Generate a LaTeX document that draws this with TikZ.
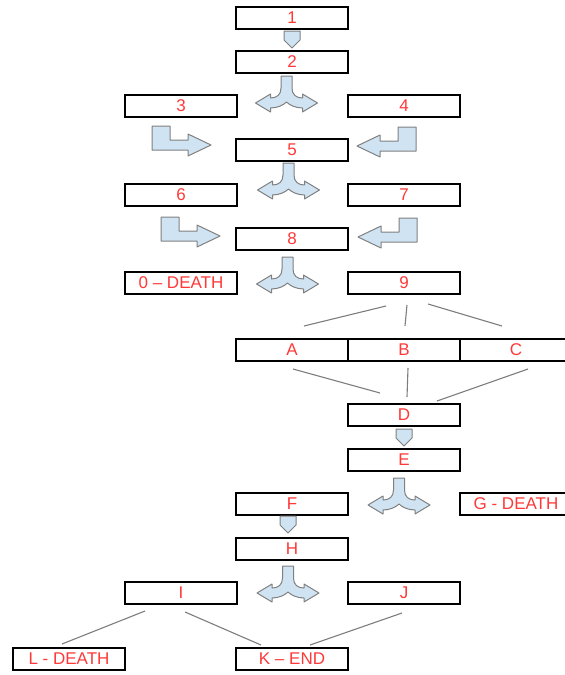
\documentclass[tikz,border=0pt]{standalone}
\usepackage{fontspec}
\setmainfont{Liberation Sans}
\definecolor{txtred}{RGB}{255,56,56}
\definecolor{arrfill}{RGB}{207,227,242}
\definecolor{arrline}{RGB}{128,128,128}
\definecolor{connc}{RGB}{125,125,125}
\tikzset{
 box/.style={draw=black, line width=1.3pt, minimum width=112pt, minimum height=22pt, inner sep=0pt, text=txtred, font=\fontsize{17}{19}\selectfont},
 blockarr/.style={fill=arrfill, draw=arrline, line width=1pt, line join=round},
 connline/.style={draw=connc, line width=1.1pt},
 pics/splitarr/.style={code={\path[blockarr] (5.5,0) -- (5.5,12) .. controls (5.5,19) and (10,22) .. (16,22) -- (16,18) -- (31,27) -- (16,36) -- (16,32) .. controls (9,32) and (3,29) .. (0,26) .. controls (-3,29) and (-9,32) .. (-16,32) -- (-16,36) -- (-31,27) -- (-16,18) -- (-16,22) .. controls (-10,22) and (-5.5,19) .. (-5.5,12) -- (-5.5,0) -- cycle;}},
 pics/downarr/.style={code={\path[blockarr] (-8,0) -- (8,0) -- (8,9) -- (0,17) -- (-8,9) -- cycle;}},
 pics/bentright/.style={code={\path[blockarr] (0,0) -- (18,0) -- (18,14) -- (36,14) -- (36,8) -- (59,19) -- (36,30) -- (36,24) -- (0,24) -- cycle;}},
 pics/bentleft/.style={code={\path[blockarr] (0,0) -- (-18,0) -- (-18,14) -- (-36,14) -- (-36,8) -- (-59,19) -- (-36,30) -- (-36,24) -- (0,24) -- cycle;}},
}
\begin{document}
\begin{tikzpicture}[x=1pt,y=-1pt]
\useasboundingbox (0,0) rectangle (565,675);
\clip (0,0) rectangle (565,675);
% boxes
\node[box] (n1) at (292,18) {1};
\node[box] (n2) at (292,62) {2};
\node[box] (n3) at (181,106) {3};
\node[box] (n4) at (404,106) {4};
\node[box] (n5) at (292,150) {5};
\node[box] (n6) at (181,195) {6};
\node[box] (n7) at (404,195) {7};
\node[box] (n8) at (292,239) {8};
\node[box] (n0) at (181,283) {0 – DEATH};
\node[box] (n9) at (404,283) {9};
\node[box] (nA) at (292,350) {A};
\node[box] (nB) at (404,350) {B};
\node[box] (nC) at (516,350) {C};
\node[box] (nD) at (404,415) {D};
\node[box] (nE) at (404,460) {E};
\node[box] (nF) at (292,504) {F};
\node[box] (nG) at (516,504) {G - DEATH};
\node[box] (nH) at (292,549) {H};
\node[box] (nI) at (181,593) {I};
\node[box] (nJ) at (404,593) {J};
\node[box] (nL) at (69,659) {L - DEATH};
\node[box] (nK) at (292,659) {K – END};
% block arrows
\pic at (292,31) {downarr};
\pic at (404,429) {downarr};
\pic at (288,516) {downarr};
\pic at (286.5,76) {splitarr};
\pic at (288.5,163) {splitarr};
\pic at (287.5,257) {splitarr};
\pic at (399,478) {splitarr};
\pic at (288,566) {splitarr};
\pic at (152,126) {bentright};
\pic at (161,217) {bentright};
\pic at (416,127) {bentleft};
\pic at (417,218) {bentleft};
% connector end points
\coordinate (c9a) at (386,306); \coordinate (cAa) at (304,326);
\coordinate (c9b) at (407,305); \coordinate (cBa) at (405,326);
\coordinate (c9c) at (428,304); \coordinate (cCa) at (502,326);
\coordinate (cAb) at (293,369); \coordinate (cDa) at (380,393);
\coordinate (cBb) at (408,368); \coordinate (cDb) at (407,397);
\coordinate (cCb) at (528,369); \coordinate (cDc) at (437,401);
\coordinate (cIa) at (145,611); \coordinate (cLa) at (62,644);
\coordinate (cIb) at (185,612); \coordinate (cKa) at (261,645);
\coordinate (cJa) at (402,613); \coordinate (cKb) at (310,645);
\draw[connline] (c9a) -- (cAa);
\draw[connline] (c9b) -- (cBa);
\draw[connline] (c9c) -- (cCa);
\draw[connline] (cAb) -- (cDa);
\draw[connline] (cBb) -- (cDb);
\draw[connline] (cCb) -- (cDc);
\draw[connline] (cIa) -- (cLa);
\draw[connline] (cIb) -- (cKa);
\draw[connline] (cJa) -- (cKb);
\end{tikzpicture}
\end{document}
